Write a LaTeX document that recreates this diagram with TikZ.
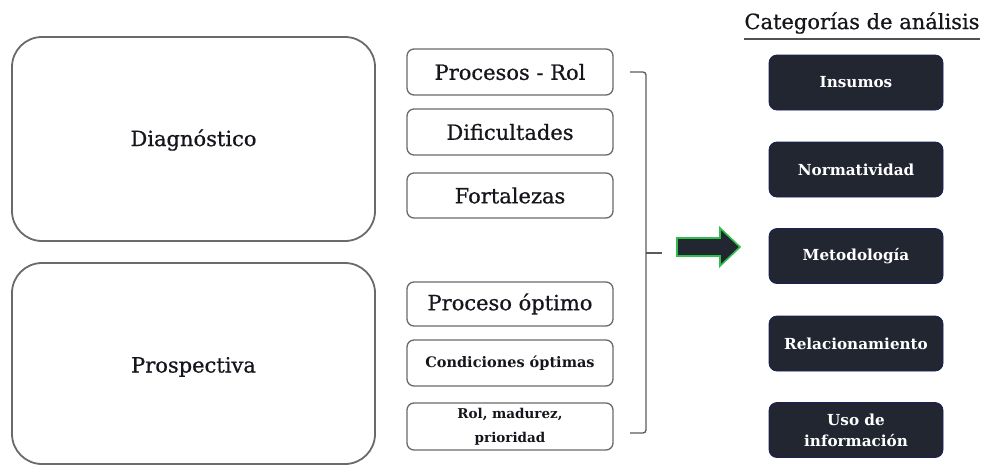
\documentclass[tikz,border=0pt]{standalone}
\usepackage{fontspec}
\setmainfont{DejaVu Serif}
\newfontfamily\heavyfont{DejaVu Serif}[FakeBold=0.7]
\usetikzlibrary{positioning}
\definecolor{darkbox}{HTML}{212631}
\definecolor{edgegray}{HTML}{6A6A6A}
\definecolor{txt}{HTML}{15151C}
\definecolor{arrgreen}{HTML}{2FBF4A}
\tikzset{
  bigbox/.style={draw=edgegray, line width=1.8pt, rounded corners=30pt, fill=white},
  bigtext/.style={text=txt, font=\heavyfont\fontsize{21}{25}\selectfont},
  smallbox/.style={draw=edgegray, line width=1.3pt, rounded corners=7pt, fill=white,
    text=txt, minimum width=206pt, inner sep=0pt, align=center},
  smalltext/.style={font=\heavyfont\fontsize{21}{25}\selectfont},
  catbox/.style={draw=darkbox!80!blue, line width=0.8pt, rounded corners=8pt, fill=darkbox,
    text=white, minimum width=174pt, minimum height=55pt, inner sep=0pt, align=center,
    font=\bfseries\fontsize{15.2}{21}\selectfont},
  brace/.style={draw=edgegray!85!black, line width=1.3pt}
}
\begin{document}
\begin{tikzpicture}[x=1pt,y=-1pt]
\useasboundingbox (0,0) rectangle (984,466);
% big boxes
\node[bigbox, minimum width=363pt, minimum height=204pt] (diag) at (193.5,139) {};
\node[bigtext] (diagt) at (193.5,140) {Diagnóstico};
\node[bigbox, minimum width=363pt, minimum height=201pt] (prosp) at (193.5,363.5) {};
\node[bigtext] (prospt) at (193.5,367) {Prospectiva};
% small boxes
\node[smallbox, smalltext, minimum height=46pt] (b1) at (510,72) {Procesos - Rol};
\node[smallbox, smalltext, minimum height=46pt] (b2) at (510,132) {Dificultades};
\node[smallbox, smalltext, minimum height=45pt] (b3) at (510,195.5) {Fortalezas};
\node[smallbox, smalltext, minimum height=44pt] (b4) at (510,304) {Proceso óptimo};
\node[smallbox, minimum height=46pt, font=\bfseries\fontsize{14.5}{16}\selectfont] (b5) at (510,363) {Condiciones óptimas};
\node[smallbox, minimum height=47pt, font=\bfseries\fontsize{13.5}{24}\selectfont] (b6) at (510,426.5) {Rol, madurez,\\prioridad};
% bracket
\coordinate (brtop) at (630,72);
\coordinate (brbot) at (630,433);
\coordinate (brmid) at (646,253);
\coordinate (brtip) at (662,253);
\draw[brace, rounded corners=3pt] (brtop) -- (646,72) -- (646,433) -- (brbot);
\draw[brace] (brmid) -- (brtip);
% arrow
\draw[draw=arrgreen, line width=1.6pt, fill=darkbox, line join=miter]
  (677,238) -- (720,238) -- (720,228) -- (740,247) -- (720,266) -- (720,256) -- (677,256) -- cycle;
% title
\node[text=txt, font=\heavyfont\fontsize{21}{24}\selectfont, inner sep=0pt] (title) at (862,23) {Categorías de análisis};
\draw[txt!75!white, line width=1.3pt] (title.south west) ++(0,5) coordinate (ul1) -- (ul1 -| title.south east);
% category boxes
\node[catbox] (c1) at (856,82.5) {Insumos};
\node[catbox] (c2) at (856,169.5) {Normatividad};
\node[catbox] (c3) at (856,256) {Metodología};
\node[catbox] (c4) at (856,343.5) {Relacionamiento};
\node[catbox] (c5) at (856,430) {Uso de\\información};
\end{tikzpicture}
\end{document}
